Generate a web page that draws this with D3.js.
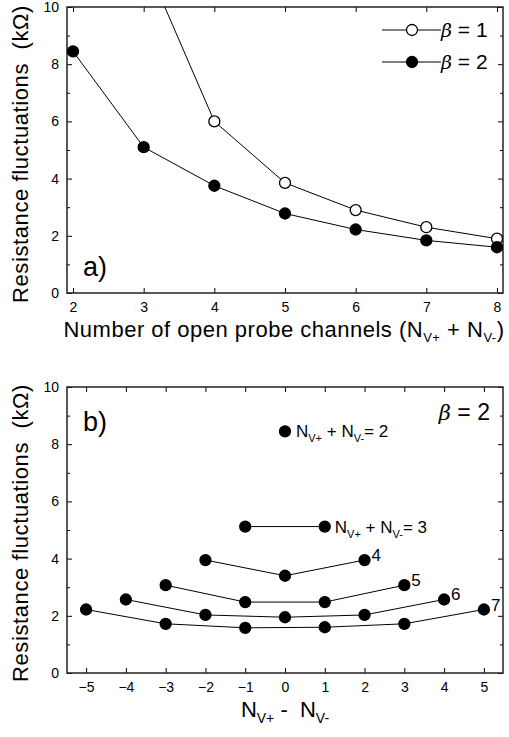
<!DOCTYPE html>
<html>
<head>
<meta charset="utf-8">
<script src="https://cdn.jsdelivr.net/npm/d3@7"></script>
<style>
  body { margin: 0; background: #fff; }
  svg text { font-family: "Liberation Sans", Arial, sans-serif; fill: #000; }
  .axis path { display: none; }
  .axis line { stroke: #000; stroke-width: 1; }
  .axis text { font-size: 14px; }
</style>
</head>
<body>
<div id="vis"></div>
<script>
// panel a data
var channels = [2, 3, 4, 5, 6, 7, 8];
var beta2 = [8.45, 5.1, 3.75, 2.78, 2.22, 1.84, 1.6];
var channels1 = [3, 4, 5, 6, 7, 8];
var beta1 = [11.7, 6.0, 3.85, 2.9, 2.3, 1.9];

// panel b data (N_V+ - N_V-, grouped by N_V+ + N_V-)
var groupN = [2, 3, 4, 5, 6, 7];
var diffs = [
  [0],
  [-1, 1],
  [-2, 0, 2],
  [-3, -1, 1, 3],
  [-4, -2, 0, 2, 4],
  [-5, -3, -1, 1, 3, 5]
];
var fluct = [
  [8.45],
  [5.12, 5.12],
  [3.95, 3.4, 3.95],
  [3.07, 2.48, 2.48, 3.07],
  [2.57, 2.03, 1.95, 2.03, 2.57],
  [2.22, 1.72, 1.58, 1.6, 1.72, 2.22]
];

var yTicks = [0, 2, 4, 6, 8, 10];
var yMinor = [1, 3, 5, 7, 9];
var xTicksA = [2, 3, 4, 5, 6, 7, 8];
var xTicksB = [-5, -4, -3, -2, -1, 0, 1, 2, 3, 4, 5];

var svg = d3.select("#vis").append("svg")
  .attr("width", 509).attr("height", 737);

var left = 67, right = 503;

function panel(top, bottom, xDomain, xTicks, id, labelY) {
  var x = d3.scaleLinear().domain(xDomain).range([left, right]);
  var y = d3.scaleLinear().domain([0, 10]).range([bottom, top]);
  var g = svg.append("g");

  svg.append("clipPath").attr("id", id)
    .append("rect").attr("x", left).attr("y", top)
    .attr("width", right - left).attr("height", bottom - top);

  g.append("g").attr("class", "axis")
    .attr("transform", "translate(0," + bottom + ")")
    .call(d3.axisBottom(x).tickValues(xTicks).tickSizeInner(-5).tickPadding(9).tickFormat(d3.format("d")));
  g.append("g").attr("class", "axis")
    .attr("transform", "translate(0," + top + ")")
    .call(d3.axisTop(x).tickValues(xTicks).tickSizeInner(-5).tickFormat(""));
  g.append("g").attr("class", "axis")
    .attr("transform", "translate(" + left + ",0)")
    .call(d3.axisLeft(y).tickValues(yTicks).tickSizeInner(-5).tickPadding(8));
  g.append("g").attr("class", "axis")
    .attr("transform", "translate(" + left + ",0)")
    .call(d3.axisLeft(y).tickValues(yMinor).tickSizeInner(-3).tickFormat(""));
  g.append("g").attr("class", "axis")
    .attr("transform", "translate(" + right + ",0)")
    .call(d3.axisRight(y).tickValues(yTicks).tickSizeInner(-5).tickFormat(""));
  g.append("g").attr("class", "axis")
    .attr("transform", "translate(" + right + ",0)")
    .call(d3.axisRight(y).tickValues(yMinor).tickSizeInner(-3).tickFormat(""));

  g.append("rect")
    .attr("x", left).attr("y", top)
    .attr("width", right - left).attr("height", bottom - top)
    .attr("fill", "none").attr("stroke", "#222").attr("stroke-width", 1.5);

  svg.append("text")
    .attr("transform", "translate(28," + labelY + ") rotate(-90)")
    .attr("text-anchor", "middle")
    .attr("font-size", 22)
    .attr("letter-spacing", 0.6)
    .attr("xml:space", "preserve")
    .text("Resistance fluctuations  (k\u03A9)");

  return {x: x, y: y, g: g};
}

function marker(sel, x, y, cx, cy, open) {
  sel.append("circle")
    .attr("cx", x(cx)).attr("cy", y(cy)).attr("r", 5.5)
    .attr("fill", open ? "#fff" : "#000")
    .attr("stroke", "#000").attr("stroke-width", 1.3);
}

// ---- panel a ----
var a = panel(7, 293, [1.915, 8.085], xTicksA, "clipA", 154);
var lineA = d3.line().x(function(d) { return a.x(d[0]); }).y(function(d) { return a.y(d[1]); });

a.g.append("path")
  .datum(d3.zip(channels1, beta1))
  .attr("clip-path", "url(#clipA)")
  .attr("d", lineA).attr("fill", "none").attr("stroke", "#000").attr("stroke-width", 1);
a.g.append("path")
  .datum(d3.zip(channels, beta2))
  .attr("d", lineA).attr("fill", "none").attr("stroke", "#000").attr("stroke-width", 1);

d3.zip(channels1, beta1).forEach(function(d) {
  if (d[1] <= 10) marker(a.g, a.x, a.y, d[0], d[1], true);
});
d3.zip(channels, beta2).forEach(function(d) {
  marker(a.g, a.x, a.y, d[0], d[1], false);
});

// legend
[["1", true, 30], ["2", false, 62]].forEach(function(l) {
  a.g.append("line").attr("x1", 382).attr("x2", 441).attr("y1", l[2]).attr("y2", l[2])
    .attr("stroke", "#000").attr("stroke-width", 1);
  a.g.append("circle").attr("cx", 412).attr("cy", l[2]).attr("r", 5.5)
    .attr("fill", l[1] ? "#fff" : "#000").attr("stroke", "#000").attr("stroke-width", 1.3);
  var t = a.g.append("text").attr("x", 441).attr("y", l[2] + 7).attr("font-size", 21);
  t.append("tspan").attr("font-style", "italic").attr("font-family", "DejaVu Serif, serif").attr("font-size", 19).text("\u03B2");
  t.append("tspan").text(" = " + l[0]);
});

a.g.append("text").attr("x", 83).attr("y", 276).attr("font-size", 27).text("a)");

var xlabA = svg.append("text").attr("x", 284).attr("y", 337)
  .attr("text-anchor", "middle").attr("font-size", 22).attr("letter-spacing", 0.5);
xlabA.append("tspan").text("Number of open probe channels (N");
xlabA.append("tspan").attr("font-size", 13).attr("dy", 5).text("V+");
xlabA.append("tspan").attr("dy", -5).text(" + N");
xlabA.append("tspan").attr("font-size", 13).attr("dy", 5).text("V-");
xlabA.append("tspan").attr("dy", -5).text(")");

// ---- panel b ----
var b = panel(387, 673, [-5.48, 5.48], xTicksB, "clipB", 533);
var lineB = d3.line().x(function(d) { return b.x(d[0]); }).y(function(d) { return b.y(d[1]); });

groupN.forEach(function(n, i) {
  var pts = d3.zip(diffs[i], fluct[i]);
  b.g.append("path").datum(pts).attr("d", lineB)
    .attr("fill", "none").attr("stroke", "#000").attr("stroke-width", 1);
  pts.forEach(function(d) { marker(b.g, b.x, b.y, d[0], d[1], false); });
});

function sumLabel(px, py, n) {
  var t = b.g.append("text").attr("x", px).attr("y", py).attr("font-size", 17);
  t.append("tspan").text("N");
  t.append("tspan").attr("font-size", 11).attr("dy", 5).text("V+");
  t.append("tspan").attr("dy", -5).text(" + N");
  t.append("tspan").attr("font-size", 11).attr("dy", 5).text("V-");
  t.append("tspan").attr("dy", -5).text("= " + n);
}
sumLabel(b.x(0) + 11, b.y(fluct[0][0]) + 6, groupN[0]);
sumLabel(b.x(1) + 10, b.y(fluct[1][1]) + 6, groupN[1]);
for (var i = 2; i < groupN.length; i++) {
  var last = diffs[i].length - 1;
  b.g.append("text")
    .attr("x", b.x(diffs[i][last]) + 7)
    .attr("y", b.y(fluct[i][last]) + 1)
    .attr("font-size", 17).text(groupN[i]);
}

var bl = b.g.append("text").attr("x", 490).attr("y", 420).attr("text-anchor", "end").attr("font-size", 23);
bl.append("tspan").attr("font-style", "italic").attr("font-family", "DejaVu Serif, serif").attr("font-size", 21).text("\u03B2");
bl.append("tspan").text(" = 2");

b.g.append("text").attr("x", 83).attr("y", 431).attr("font-size", 27).text("b)");

var xlabB = svg.append("text").attr("x", 285).attr("y", 717)
  .attr("text-anchor", "middle").attr("font-size", 22).attr("xml:space", "preserve");
xlabB.append("tspan").text("N");
xlabB.append("tspan").attr("font-size", 14).attr("dy", 6).text("V+");
xlabB.append("tspan").attr("dy", -6).text(" -  N");
xlabB.append("tspan").attr("font-size", 14).attr("dy", 6).text("V-");
</script>
</body>
</html>
